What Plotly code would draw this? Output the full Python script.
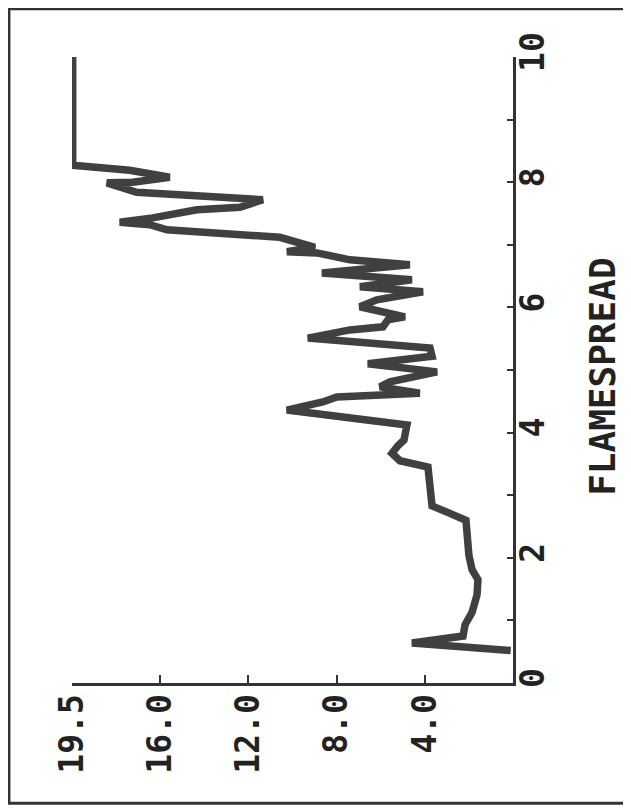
import plotly.graph_objects as go

# Data traced from the (rotated) reference: flamespread vs value, in drawing order
flamespread = [0.52, 0.64, 0.75, 0.93, 1.13, 1.41, 1.65, 1.81, 2.04, 2.44, 2.60, 2.73, 2.83,
               3.00, 3.24, 3.45, 3.55, 3.67, 3.79, 3.88, 4.12, 4.36, 4.49, 4.57, 4.63, 4.73,
               4.81, 4.97, 5.10, 5.22, 5.35, 5.51, 5.64, 5.69, 5.80, 5.85, 6.01, 6.12, 6.25,
               6.33, 6.44, 6.55, 6.68, 6.76, 6.87, 6.89, 6.96, 7.12, 7.24, 7.32, 7.36, 7.43,
               7.56, 7.60, 7.72, 7.76, 7.84, 7.99, 8.00, 8.08, 8.19, 8.27, 10.0]
values = [0.1, 4.47, 2.21, 2.12, 1.81, 1.59, 1.55, 1.81, 1.95, 2.04, 2.08, 2.92, 3.58,
          3.63, 3.72, 3.76, 5.0, 5.35, 5.09, 4.82, 4.69, 10.0, 8.41, 7.79, 4.12, 5.88,
          5.44, 3.36, 6.42, 3.58, 3.67, 9.07, 7.21, 5.75, 5.53, 4.78, 6.77, 6.02, 3.98,
          6.77, 4.47, 8.45, 4.56, 7.21, 8.67, 10.0, 8.76, 10.31, 15.3, 16.06, 17.39, 15.93,
          13.98, 12.08, 11.06, 13.1, 16.64, 17.96, 16.81, 15.18, 16.95, 19.47, 19.47]

value_tickvals = [3.9, 7.8, 11.7, 15.6, 19.5]
value_ticktext = ["4.0", "8.0", "12.0", "16.0", "19.5"]
fs_tickvals = list(range(11))
fs_ticktext = ["0", "", "2", "", "4", "", "6", "", "8", "", "10"]
axis_title = "FLAMESPREAD"

INK = "#333333"
tick_font = dict(family="DejaVu Sans Mono", size=33, color="#222222", weight="bold")

fig = go.Figure()
fig.add_trace(go.Scatter(
    x=values, y=flamespread, mode="lines",
    line=dict(color="#404040", width=7.5), hoverinfo="skip", showlegend=False,
))

fig.update_layout(
    width=623, height=803,
    margin=dict(l=64, r=118, t=49, b=128),
    paper_bgcolor="white", plot_bgcolor="white",
    xaxis=dict(
        range=[19.5, 0], tickmode="array", tickvals=value_tickvals, ticktext=value_ticktext,
        ticks="inside", ticklen=8, tickwidth=2, tickcolor=INK, tickangle=-90,
        showline=True, linewidth=3, linecolor=INK, showgrid=False, zeroline=False,
        tickfont=tick_font, ticklabelstandoff=-5,
    ),
    yaxis=dict(
        range=[0, 10], side="right", tickmode="array", tickvals=fs_tickvals, ticktext=fs_ticktext,
        ticks="inside", ticklen=6, tickwidth=2, tickcolor=INK, tickangle=-90,
        showline=True, linewidth=3, linecolor=INK, showgrid=False, zeroline=False,
        tickfont=tick_font, ticklabelstandoff=-12,
    ),
    shapes=[dict(type="rect", xref="paper", yref="paper",
                 x0=-0.143, x1=1.265, y0=-0.192, y1=1.077,
                 line=dict(color=INK, width=3))],
    annotations=[dict(text=axis_title, xref="paper", yref="paper", x=1.204, y=0.489,
                      textangle=-90, showarrow=False, xanchor="center", yanchor="middle",
                      font=dict(family="DejaVu Sans Mono", size=36, color="#222222", weight="bold"))],
)

fig.write_html("out.html")
